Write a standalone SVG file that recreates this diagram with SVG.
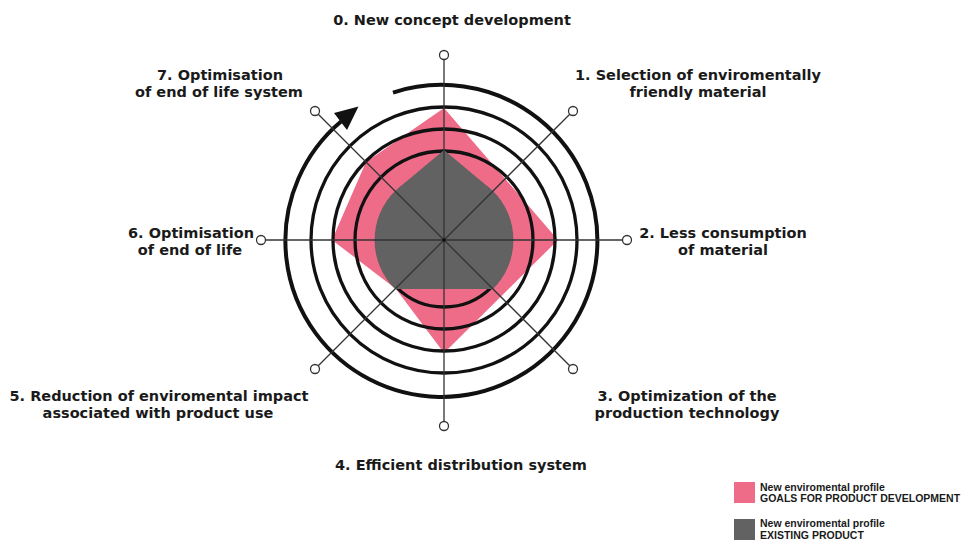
<svg xmlns="http://www.w3.org/2000/svg" width="961" height="540" viewBox="0 0 961 540">
<style>
.lbl{font-family:"DejaVu Sans","Liberation Sans",sans-serif;font-weight:bold;font-size:14.5px;fill:#1a1a1a;text-anchor:middle}
.leg{font-family:"Liberation Sans",Arial,sans-serif;font-weight:bold;font-size:10.5px;fill:#1a1a1a}
.ring{fill:none;stroke:#111;stroke-width:3.3}
.axis{stroke:#333;stroke-width:1.3}
.end{fill:#fff;stroke:#333;stroke-width:1.3}
</style>
<rect width="961" height="540" fill="#fff"/>
<g id="profile-goals">
<polygon points="444,108 558,240 444,353 396,289 332,240 366,162" fill="#EE6C88"/>
</g>
<g id="rings">
<circle class="ring" cx="444" cy="240" r="67"/>
<circle class="ring" cx="444" cy="240" r="89"/>
<circle class="ring" cx="444" cy="240" r="111"/>
<circle class="ring" cx="444" cy="240" r="133"/>
</g>
<g id="profile-existing">
<path d="M444 150 L493 191 A69 69 0 0 1 493 289 L395 289 A69 69 0 0 1 395 191 Z" fill="#626262"/>
</g>
<g id="cycle-arrow">
<path d="M393 92.6 A156 156 0 1 1 341 121.5" fill="none" stroke="#111" stroke-width="4"/>
<polygon points="358.5,106.5 334,113 347,130" fill="#111"/>
</g>
<g id="connectors">
<line class="axis" x1="444" y1="240" x2="444" y2="59.5"/>
<line class="axis" x1="444" y1="240" x2="570" y2="114"/>
<line class="axis" x1="444" y1="240" x2="622.5" y2="240"/>
<line class="axis" x1="444" y1="240" x2="570" y2="366"/>
<line class="axis" x1="444" y1="240" x2="444" y2="421.5"/>
<line class="axis" x1="444" y1="240" x2="318" y2="366"/>
<line class="axis" x1="444" y1="240" x2="265.5" y2="240"/>
<line class="axis" x1="444" y1="240" x2="318" y2="114"/>
<circle cx="444" cy="240" r="1.8" fill="#111"/>
</g>
<g id="node-0"><circle class="end" cx="444" cy="55" r="4.5"/><text class="lbl" x="452" y="25">0. New concept development</text></g>
<g id="node-1"><circle class="end" cx="573" cy="111" r="4.5"/><text class="lbl" x="698" y="80">1. Selection of enviromentally</text><text class="lbl" x="698" y="97">friendly material</text></g>
<g id="node-2"><circle class="end" cx="627" cy="240" r="4.5"/><text class="lbl" x="723" y="238">2. Less consumption</text><text class="lbl" x="723" y="255">of material</text></g>
<g id="node-3"><circle class="end" cx="573" cy="369" r="4.5"/><text class="lbl" x="687" y="401">3. Optimization of the</text><text class="lbl" x="687" y="418">production technology</text></g>
<g id="node-4"><circle class="end" cx="444" cy="426" r="4.5"/><text class="lbl" x="461" y="470">4. Efficient distribution system</text></g>
<g id="node-5"><circle class="end" cx="315" cy="369" r="4.5"/><text class="lbl" x="159" y="401">5. Reduction of enviromental impact</text><text class="lbl" x="158" y="418">associated with product use</text></g>
<g id="node-6"><circle class="end" cx="261" cy="240" r="4.5"/><text class="lbl" x="191" y="238">6. Optimisation</text><text class="lbl" x="190" y="255">of end of life</text></g>
<g id="node-7"><circle class="end" cx="315" cy="111" r="4.5"/><text class="lbl" x="220" y="80">7. Optimisation</text><text class="lbl" x="219" y="97">of end of life system</text></g>
<g id="legend">
<rect x="734" y="482" width="21" height="21" fill="#EE6C88"/>
<text class="leg" x="760" y="491">New enviromental profile</text>
<text class="leg" x="760" y="502">GOALS FOR PRODUCT DEVELOPMENT</text>
<rect x="734" y="519" width="21" height="21" fill="#626262"/>
<text class="leg" x="760" y="527">New enviromental profile</text>
<text class="leg" x="760" y="538.5">EXISTING PRODUCT</text>
</g>
</svg>
